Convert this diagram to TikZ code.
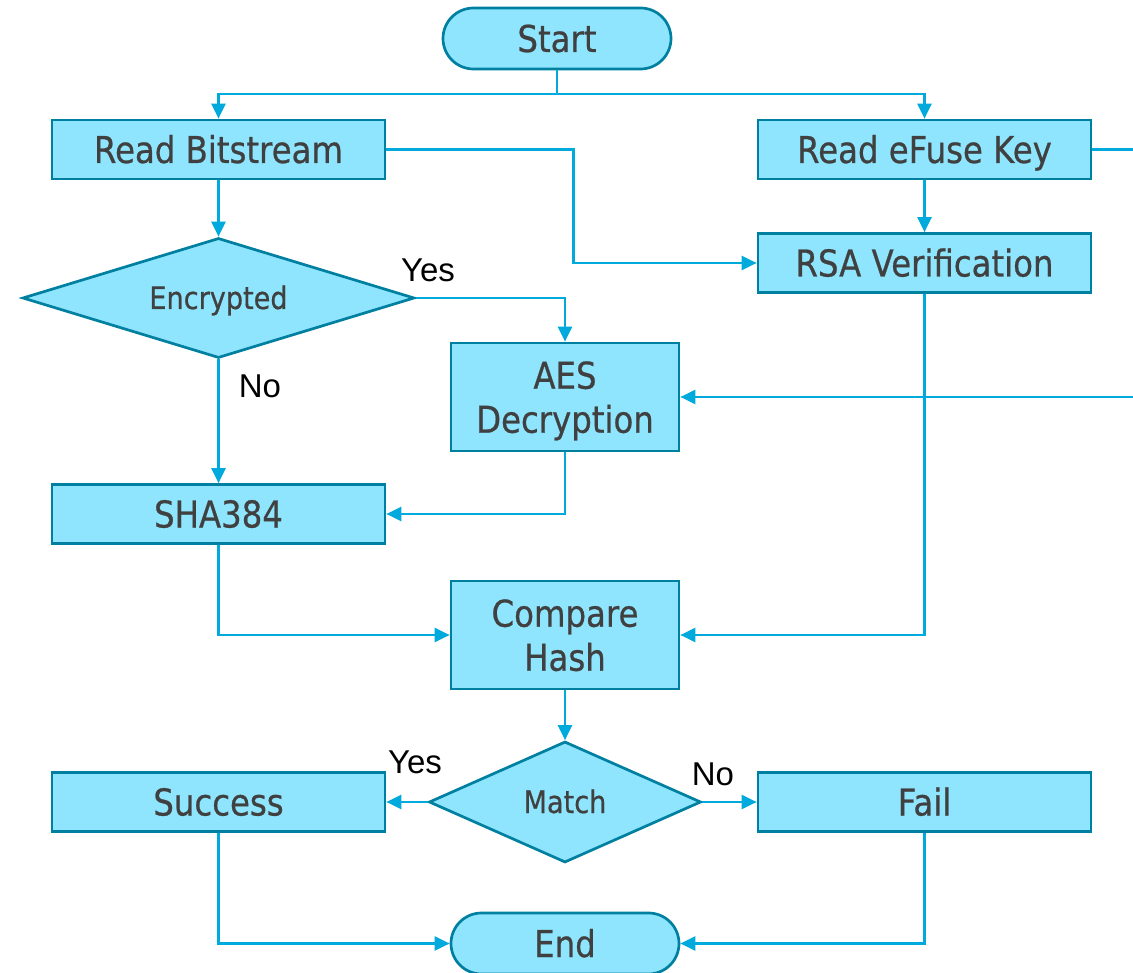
\documentclass[tikz,border=0pt]{standalone}
\usepackage{fontspec}
\usetikzlibrary{arrows.meta,shapes.geometric,shapes.misc}
\newfontfamily\boxfont[FakeStretch=0.875,FakeBold=0.6]{DejaVu Sans}
\newfontfamily\labelfont{Liberation Sans}
\definecolor{boxfill}{RGB}{142,229,253}
\definecolor{boxline}{RGB}{0,128,160}
\definecolor{wire}{RGB}{0,170,220}
\definecolor{boxtext}{RGB}{64,64,64}
\tikzset{
  shapebase/.style={draw=boxline,fill=boxfill,line width=2.7pt,inner sep=0pt,text=boxtext},
  block/.style={rectangle,shapebase,minimum width=333pt,minimum height=59pt,
    text height=27pt,text depth=0pt,
    font=\boxfont\fontsize{37}{44}\selectfont},
  midblock/.style={rectangle,shapebase,minimum width=228pt,minimum height=108pt,
    text depth=0pt,font=\boxfont\fontsize{37}{44}\selectfont,align=center},
  terminal/.style={rounded rectangle,shapebase,minimum width=228pt,minimum height=61pt,
    text height=27pt,text depth=0pt,font=\boxfont\fontsize{37}{44}\selectfont},
  decision/.style={diamond,shapebase,text height=22pt,text depth=0pt,
    font=\boxfont\fontsize{31}{36}\selectfont},
  conn/.style={draw=wire,line width=2.3pt,-{Triangle[length=15pt,width=14pt]}},
  wireonly/.style={draw=wire,line width=2.3pt},
  branch/.style={text=black,font=\labelfont\fontsize{33}{38}\selectfont,inner sep=0pt}
}
\begin{document}
\begin{tikzpicture}[x=1pt,y=-1pt]
\clip (0,0) rectangle (1133,973);
\fill[white] (0,0) rectangle (1133,973);

% process nodes
\node[terminal] (start) at (557,38.5) {Start};
\node[block] (rb) at (218.5,149.5) {Read Bitstream};
\node[block] (ek) at (924.5,149.5) {Read eFuse Key};
\node[block] (rsa) at (924.5,263) {RSA Verification};
\node[decision,shape aspect=3.27,minimum width=392pt,minimum height=120pt] (enc) at (218.5,298) {Encrypted};
\node[midblock] (aes) at (565,397) {AES\\Decryption};
\node[block] (sha) at (218.5,514) {SHA384};
\node[midblock] (cmp) at (565,635) {Compare\\Hash};
\node[decision,shape aspect=2.25,minimum width=272pt,minimum height=121pt] (match) at (565,802) {Match};
\node[block] (succ) at (218.5,802) {Success};
\node[block] (fail) at (924.5,802) {Fail};
\node[terminal] (end) at (565,943.5) {End};

% connectors
\coordinate (split) at (557,94);
\draw[wireonly] (start.south) -- (split);
\draw[conn] (split) -| (rb.north);
\draw[conn] (split) -| (ek.north);
\draw[conn] (rb.east) -- ++(187,0) |- (rsa.west);
\draw[conn] (ek.south) -- (rsa.north);
\coordinate (keyout) at (1160,149.5);
\draw[conn] (ek.east) -- (keyout) |- (aes.east);
\draw[conn] (rsa.south) |- (cmp.east);
\draw[conn] (rb.south) -- (enc.north);
\draw[conn] (enc.east) -| (aes.north);
\draw[conn] (enc.south) -- (sha.north);
\draw[conn] (aes.south) |- (sha.east);
\draw[conn] (sha.south) |- (cmp.west);
\draw[conn] (cmp.south) -- (match.north);
\draw[conn] (match.west) -- (succ.east);
\draw[conn] (match.east) -- (fail.west);
\draw[conn] (succ.south) |- (end.west);
\draw[conn] (fail.south) |- (end.east);

% branch labels
\node[branch] (encyes) at (428,270) {Yes};
\node[branch] (encno) at (260,386) {No};
\node[branch] (matchyes) at (415,762) {Yes};
\node[branch] (matchno) at (713,774) {No};
\end{tikzpicture}
\end{document}
